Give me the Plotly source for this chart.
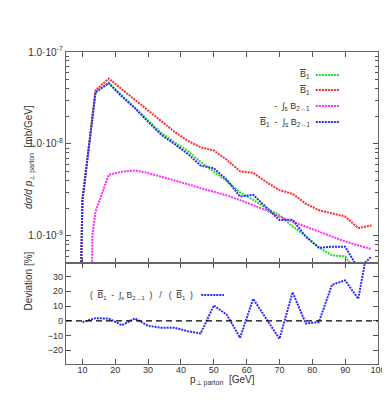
import plotly.graph_objects as go

# ---------------- data ----------------
pt = [6, 10, 14, 18, 22, 26, 30, 34, 38, 42, 46, 50, 54, 58, 62, 66, 70, 74, 78, 82, 86, 90, 94, 98]

bbar_green = [1e-16, 2.47e-9, 3.63e-8, 4.62e-8, 3.38e-8, 2.48e-8, 1.80e-8, 1.32e-8, 1.05e-8, 8.45e-9,
              6.37e-9, 4.95e-9, 3.92e-9, 2.97e-9, 2.47e-9, 2.00e-9, 1.69e-9, 1.27e-9, 1.00e-9, 7.5e-10,
              6.15e-10, 6.0e-10, 3.8e-10, 3.6e-10]

bbar_red = [1e-16, 2.47e-9, 3.85e-8, 5.15e-8, 3.94e-8, 3.02e-8, 2.31e-8, 1.77e-8, 1.36e-8, 1.09e-8,
            9.2e-9, 8.5e-9, 6.7e-9, 5.05e-9, 4.85e-9, 3.85e-9, 3.15e-9, 2.87e-9, 2.25e-9, 1.90e-9,
            1.76e-9, 1.63e-9, 1.22e-9, 1.30e-9]

diff_blue = [1e-16, 2.45e-9, 3.66e-8, 4.58e-8, 3.28e-8, 2.45e-8, 1.74e-8, 1.26e-8, 1.0e-8, 7.86e-9,
             5.82e-9, 5.45e-9, 4.08e-9, 2.68e-9, 2.80e-9, 2.03e-9, 1.49e-9, 1.50e-9, 0.98e-9, 7.45e-10,
             7.65e-10, 7.65e-10, 4.4e-10, 5.96e-10]

pt_int = [12, 13, 14, 18, 22, 26, 30, 34, 38, 42, 46, 50, 54, 58, 62, 66, 70, 74, 78, 82, 86, 90, 94, 98]
int_magenta = [1e-16, 1.0e-9, 1.85e-9, 4.62e-9, 5.0e-9, 5.16e-9, 4.83e-9, 4.42e-9, 4.06e-9, 3.66e-9,
               3.31e-9, 3.0e-9, 2.76e-9, 2.45e-9, 2.14e-9, 1.90e-9, 1.62e-9, 1.43e-9, 1.27e-9, 1.12e-9,
               9.9e-10, 8.7e-10, 7.9e-10, 7.2e-10]

pt_dev = [10, 14, 18, 22, 26, 30, 34, 38, 42, 46, 50, 54, 58, 62, 66, 70, 74, 78, 82, 86, 90, 94, 98]
deviation = [-0.9, 1.8, 1.5, -3.0, 1.6, -3.4, -4.7, -4.7, -7.0, -8.6, 10.4, 4.0, -11.5, 14.9, 1.3,
             -12.2, 19.4, -1.8, -0.9, 24.5, 27.4, 14.9, 63.0]

x_ticks = [10, 20, 30, 40, 50, 60, 70, 80, 90, 100]
y_log_ticks = [1e-9, 1e-8, 1e-7]
y_log_labels = ["1.0·10<sup>-9</sup>", "1.0·10<sup>-8</sup>", "1.0·10<sup>-7</sup>"]
y_dev_ticks = [-20, -10, 0, 10, 20, 30]

# ---------------- style ----------------
GREEN = "#22dd22"
RED = "#ff2a2a"
MAGENTA = "#ff2aff"
BLUE = "#2a2aff"
DOT = "2px,1px"
FONT = "Liberation Sans, Arial, sans-serif"
TXT = "#333333"

fig = go.Figure()

for xs, ys, col in [(pt, bbar_green, GREEN), (pt, bbar_red, RED),
                    (pt_int, int_magenta, MAGENTA), (pt, diff_blue, BLUE)]:
    fig.add_trace(go.Scatter(x=xs, y=ys, mode="lines", xaxis="x", yaxis="y",
                             line=dict(color=col, width=2, dash=DOT), showlegend=False))

fig.add_trace(go.Scatter(x=pt_dev, y=deviation, mode="lines", xaxis="x2", yaxis="y2",
                         line=dict(color=BLUE, width=2, dash=DOT), showlegend=False))

minor_log = [m * 10 ** e for e in (-10, -9, -8) for m in range(2, 10)]

split = 101 / 312


def axis_style(size=9):
    return dict(ticks="inside", showline=True, linecolor="#666666", linewidth=1.4,
                mirror="allticks", tickcolor="#555555", ticklen=5, tickwidth=1,
                showgrid=False, zeroline=False,
                tickfont=dict(family=FONT, size=size, color=TXT))


fig.update_layout(
    width=390, height=410,
    margin=dict(l=58, r=16, t=44, b=54),
    paper_bgcolor="white", plot_bgcolor="white",
    font=dict(family=FONT, size=9, color=TXT),
    xaxis=dict(domain=[0, 1], anchor="y", range=[5, 100], tickvals=x_ticks,
               showticklabels=False, **axis_style()),
    yaxis=dict(domain=[split, 1], anchor="x", type="log", range=[-9.294, -7],
               tickvals=y_log_ticks, ticktext=y_log_labels,
               minor=dict(tickvals=minor_log, ticks="inside", ticklen=3,
                          tickcolor="#555555"),
               **axis_style(10)),
    xaxis2=dict(domain=[0, 1], anchor="y2", range=[5, 100], tickvals=x_ticks,
                ticklabelstandoff=-3, **axis_style()),
    yaxis2=dict(domain=[0, split], anchor="x2", range=[-29.3, 39.2], tickvals=y_dev_ticks,
                **axis_style()),
)

# dashed zero line in the deviation panel
fig.add_shape(type="line", xref="x2 domain", yref="y2", x0=0, x1=1, y0=0, y1=0,
              line=dict(color="black", width=1.3, dash="6px,4px"))


def px2paper(px, py):
    return (px - 58) / 316, (356 - py) / 312


# axis titles
ax, ay = px2paper(12, 149)
fig.add_annotation(x=ax, y=ay, xref="paper", yref="paper", textangle=-90, showarrow=False,
                   text="<i>dσ/d p</i><sub>⊥ parton</sub>  [mb/GeV]",
                   font=dict(family=FONT, size=10, color=TXT))
ax, ay = px2paper(12, 305)
fig.add_annotation(x=ax, y=ay, xref="paper", yref="paper", textangle=-90, showarrow=False,
                   text="Deviation [%]", font=dict(family=FONT, size=10, color=TXT))
ax, ay = px2paper(217, 381)
fig.add_annotation(x=ax, y=ay, xref="paper", yref="paper", showarrow=False,
                   text="p<sub>⊥ parton</sub>  [GeV]", font=dict(family=FONT, size=10, color=TXT))

# legends (gnuplot style: label right-aligned, sample to the right)
BB = '<span style="text-decoration:overline">B</span><sub>1</sub>'
INT = "∫<sub>s</sub> B<sub>2→1</sub>"
upper_labels = [BB, BB, "-  " + INT, BB + "  -  " + INT]
upper_rows = [67, 82, 98, 114]
for lab, row, col in zip(upper_labels, upper_rows, [GREEN, RED, MAGENTA, BLUE]):
    tx, ty = px2paper(307, row)
    fig.add_annotation(x=tx, y=ty, xref="paper", yref="paper", xanchor="right", yanchor="middle",
                       showarrow=False, text=lab, font=dict(family=FONT, size=9, color=TXT))
    x0, y0 = px2paper(311, row)
    x1, _ = px2paper(335, row)
    fig.add_shape(type="line", xref="paper", yref="paper", x0=x0, x1=x1, y0=y0, y1=y0,
                  line=dict(color=col, width=2, dash=DOT))

tx, ty = px2paper(189, 287)
fig.add_annotation(x=tx, y=ty, xref="paper", yref="paper", xanchor="right", yanchor="middle",
                   showarrow=False,
                   text="(  " + BB + "  -  " + INT + "  )   /   (  " + BB + "  )",
                   font=dict(family=FONT, size=8.5, color=TXT))
x0, y0 = px2paper(195, 287)
x1, _ = px2paper(218, 287)
fig.add_shape(type="line", xref="paper", yref="paper", x0=x0, x1=x1, y0=y0, y1=y0,
              line=dict(color=BLUE, width=2, dash=DOT))

fig.write_html("out.html")
